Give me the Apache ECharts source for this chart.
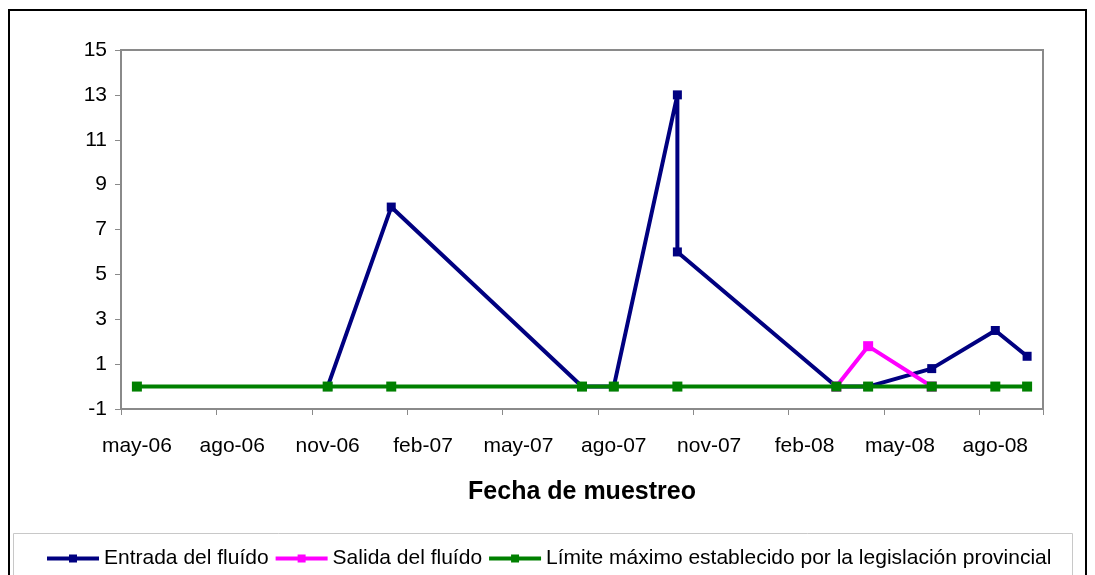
<!DOCTYPE html>
<html>
<head>
<meta charset="utf-8">
<style>
  html, body { margin: 0; padding: 0; background: #fff; }
  #chart { width: 1095px; height: 575px; }
</style>
<script src="https://cdn.jsdelivr.net/npm/echarts@6/dist/echarts.min.js"></script>
</head>
<body>
<div id="chart"></div>
<script>
// Monthly sampling slots, May 2006 through September 2008
const meses = ['may-06','jun-06','jul-06','ago-06','sep-06','oct-06','nov-06','dic-06',
  'ene-07','feb-07','mar-07','abr-07','may-07','jun-07','jul-07','ago-07','sep-07','oct-07',
  'nov-07','dic-07','ene-08','feb-08','mar-08','abr-08','may-08','jun-08','jul-08','ago-08','sep-08'];

// Inlet fluid (October 2007 has two samples)
const entradaFechas = ['nov-06','ene-07','jul-07','ago-07','oct-07','oct-07','mar-08','abr-08','jun-08','ago-08','sep-08'];
const entradaValores = [0, 8, 0, 0, 13, 6, 0, 0, 0.8, 2.5, 1.35];

// Outlet fluid
const salidaFechas = ['mar-08','abr-08','jun-08'];
const salidaValores = [0, 1.8, 0];

// Maximum limit set by provincial legislation
const limiteFechas = ['may-06','nov-06','ene-07','jul-07','ago-07','oct-07','mar-08','abr-08','jun-08','ago-08','sep-08'];
const limiteValores = [0, 0, 0, 0, 0, 0, 0, 0, 0, 0, 0];

// Y axis range
const yMin = -1, yMax = 15, yPaso = 2;

const nombres = ['Entrada del fluído', 'Salida del fluído', 'Límite máximo establecido por la legislación provincial'];
const colores = ['#000080', '#FF00FF', '#008000'];

function pares(fechas, valores) {
  return fechas.map((f, i) => [meses.indexOf(f), valores[i]]);
}

const FONT = '"Liberation Sans", Arial, sans-serif';

const chart = echarts.init(document.getElementById('chart'), null, { renderer: 'canvas' });

function serie(i, fechas, valores, size) {
  return {
    name: nombres[i],
    type: 'line',
    data: pares(fechas, valores),
    symbol: 'rect',
    symbolSize: size,
    showAllSymbol: true,
    color: colores[i],
    lineStyle: { color: colores[i], width: 4 },
    itemStyle: { color: colores[i] },
    animation: false,
    z: 2 + i
  };
}

chart.setOption({
  animation: false,
  backgroundColor: '#fff',
  textStyle: { fontFamily: FONT },
  grid: {
    left: 121, top: 50, right: 52, bottom: 166,
    show: true, borderColor: '#8a8a8a', borderWidth: 2, backgroundColor: '#fff'
  },
  graphic: [
    { type: 'rect', shape: { x: 9, y: 10, width: 1077, height: 600 },
      style: { fill: null, stroke: '#000', lineWidth: 2 }, z: -1 },
    { type: 'rect', shape: { x: 13.5, y: 533.5, width: 1059, height: 60 },
      style: { fill: '#fff', stroke: '#c8c8c8', lineWidth: 1 }, z: 0 }
  ],
  legend: {
    left: 45, top: 548,
    itemWidth: 52, itemHeight: 10, itemGap: 5,
    padding: 0,
    lineStyle: { width: 4 },
    textStyle: { fontSize: 21, color: '#000', fontFamily: FONT },
    data: nombres,
    z: 5
  },
  xAxis: {
    type: 'category',
    data: meses,
    boundaryGap: true,
    name: 'Fecha de muestreo',
    nameLocation: 'middle',
    nameGap: 71,
    nameTextStyle: { fontSize: 25, fontWeight: 'bold', color: '#000', fontFamily: FONT },
    axisLine: { show: true, onZero: false, lineStyle: { color: '#8a8a8a', width: 2 } },
    axisTick: { show: true, interval: 2, length: 6, lineStyle: { color: '#8a8a8a', width: 1 } },
    axisLabel: { interval: 2, margin: 27, fontSize: 21, color: '#000', fontFamily: FONT },
    splitLine: { show: false }
  },
  yAxis: {
    type: 'value',
    min: yMin, max: yMax, interval: yPaso,
    axisLine: { show: true, lineStyle: { color: '#8a8a8a', width: 2 } },
    axisTick: { show: true, length: 6, lineStyle: { color: '#8a8a8a', width: 1 } },
    axisLabel: { margin: 14, fontSize: 21, color: '#000', fontFamily: FONT },
    splitLine: { show: false }
  },
  series: [
    serie(0, entradaFechas, entradaValores, 9),
    serie(1, salidaFechas, salidaValores, 10),
    serie(2, limiteFechas, limiteValores, 10)
  ]
});
</script>
</body>
</html>
